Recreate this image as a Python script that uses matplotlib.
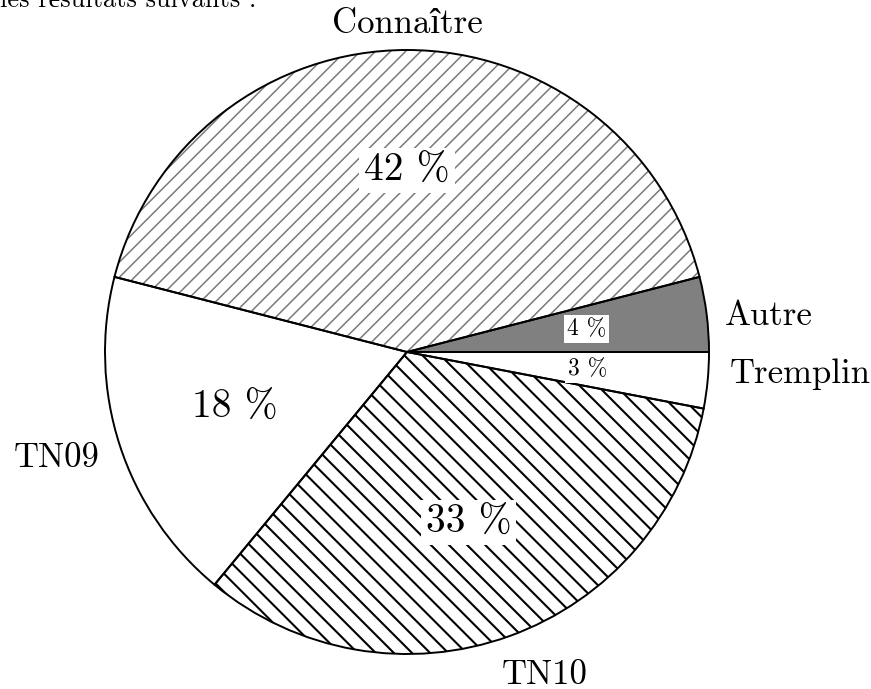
import numpy as np
import matplotlib
matplotlib.use('Agg')
import matplotlib.pyplot as plt

# ---- data ----
labels = ['Autre', 'Connaître', 'TN09', 'TN10', 'Tremplin']
values = [4, 42, 18, 33, 3]
face_colors = ['#808080', 'white', 'white', 'white', 'white']

# ---- style ----
# cmr10 has no accented letters: î / é fall back to Liberation Serif
plt.rcParams['font.family'] = ['cmr10', 'Liberation Serif']
plt.rcParams['mathtext.fontset'] = 'cm'
plt.rcParams['axes.unicode_minus'] = False

# hatching: (direction, horizontal spacing in data units, colour, width)
hatch_style = {
    'Connaître': (1, 0.050, '#7a7a7a', 1.1),
    'TN10': (-1, 0.060, 'black', 1.5),
}

fig = plt.figure(figsize=(8.71, 6.89), dpi=100)
ax = fig.add_axes([0, 0, 1, 1])

# fills
fills, _ = ax.pie(values, startangle=0, counterclock=True, radius=1.0,
                  colors=face_colors, wedgeprops=dict(linewidth=0))

# hatch lines clipped to their wedge
for name, w in zip(labels, fills):
    if name not in hatch_style:
        continue
    sgn, step, col, lw = hatch_style[name]
    for b in np.arange(-2.0, 2.0, step):
        ln, = ax.plot([-1.5, 1.5], [sgn * -1.5 + b, sgn * 1.5 + b],
                      color=col, lw=lw, solid_capstyle='butt', zorder=1.5)
        ln.set_clip_path(w)

# black outlines + percentages
outlines, _, pcts = ax.pie(values, startangle=0, counterclock=True, radius=1.0,
                           autopct=lambda p: f'{p:.0f} %', pctdistance=0.6,
                           wedgeprops=dict(facecolor='none', edgecolor='black',
                                           linewidth=1.4, zorder=2))
for t, v in zip(pcts, values):
    t.set_fontsize(17 if v < 10 else 28.5)
    t.set_bbox(dict(boxstyle='square,pad=0.12', facecolor='white',
                    edgecolor='none'))
    t.set_zorder(5)

# pie() resets the limits, so set them afterwards
ax.set_xlim(-407 / 302, 464 / 302)
ax.set_ylim(-337 / 302, 352 / 302)
ax.set_aspect('equal')
ax.axis('off')

# outer labels
label_pos = {
    'Autre': (1.053, 0.089, 'left'),
    'Connaître': (0.0, 1.056, 'center'),
    'TN09': (-1.017, -0.381, 'right'),
    'TN10': (0.315, -1.100, 'left'),
    'Tremplin': (1.070, -0.103, 'left'),
}
for name in labels:
    x, y, ha = label_pos[name]
    ax.text(x, y, name, fontsize=25, ha=ha, va='baseline')

# sentence cut off at the top of the page
ax.text(-1.348, 1.142, 'les résultats suivants :',
        fontsize=19, ha='left', va='baseline')

fig.savefig('out.png', dpi=100)
